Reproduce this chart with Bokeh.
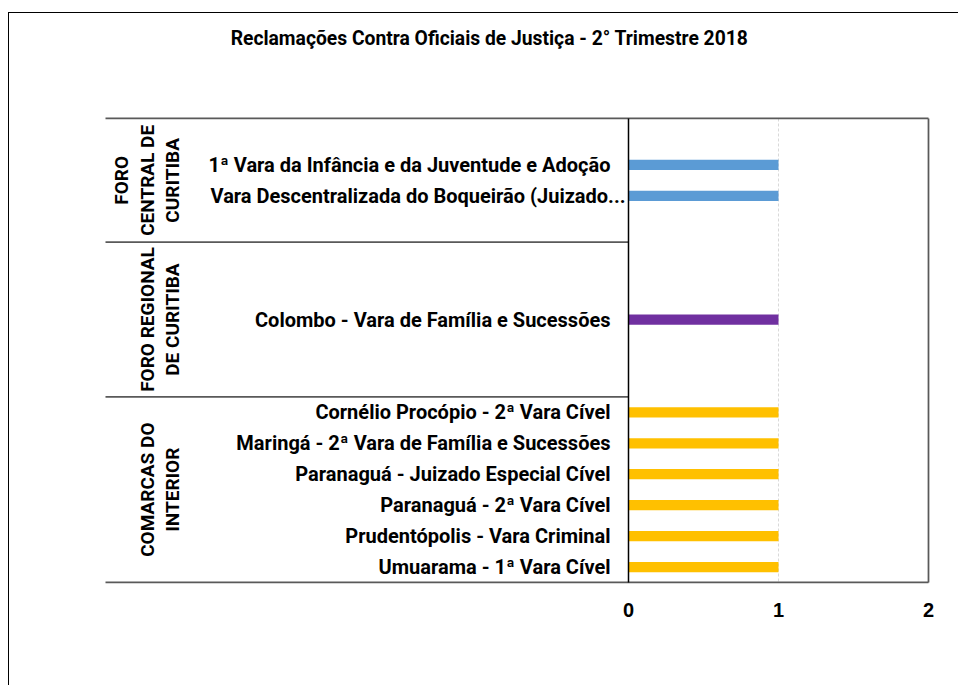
import math
from bokeh.plotting import figure
from bokeh.models import Range1d, FixedTicker, ColumnDataSource, Label
from bokeh.core.properties import value
from bokeh.embed import file_html
from bokeh.resources import INLINE

# ---------------- data ----------------
TITLE = "Reclamações Contra Oficiais de Justiça - 2° Trimestre 2018"

group_names = ["FORO\nCENTRAL DE\nCURITIBA", "FORO REGIONAL\nDE CURITIBA", "COMARCAS DO\nINTERIOR"]
group_colors = ["#5B9BD5", "#7030A0", "#FFC000"]

foro_central_items = ["", "1ª Vara da Infância e da Juventude e Adoção",
                      "Vara Descentralizada do Boqueirão (Juizado...", ""]
foro_central_values = [None, 1, 1, None]

foro_regional_items = ["", "", "Colombo - Vara de Família e Sucessões", "", ""]
foro_regional_values = [None, None, 1, None, None]

comarcas_items = ["Cornélio Procópio - 2ª Vara Cível",
                  "Maringá - 2ª Vara de Família e Sucessões",
                  "Paranaguá - Juizado Especial Cível",
                  "Paranaguá - 2ª Vara Cível",
                  "Prudentópolis - Vara Criminal",
                  "Umuarama - 1ª Vara Cível"]
comarcas_values = [1, 1, 1, 1, 1, 1]

x_ticks = [0, 1, 2]

groups_items = [foro_central_items, foro_regional_items, comarcas_items]
groups_values = [foro_central_values, foro_regional_values, comarcas_values]

# ---------------- layout constants ----------------
FONT = "Roboto"
OFF_X, OFF_Y = 9, 13               # page offset of the figure (margin + chart border)
W, H = 959 - OFF_X, 686 - OFF_Y
FRAME_H = 590 - OFF_Y
N_SLOTS = sum(len(g) for g in groups_items)
X0, X1 = -4.1267, 2.2067           # frame x-extent in data units
Y_TOP, Y_BOT = -3.394, 15.259      # frame y-extent in slot units
LEFT_AREA = -3.4867                # start of category-label area
LABEL_X = -0.12
ELLIPSIS_HANG = 0.1                # truncated labels let the "..." hang past
GROUP_LABEL_X = -2.963

# ---------------- build sources ----------------
bar_y, bar_v, bar_c = [], [], []
lab_y, lab_t, lab_x = [], [], []
grp_y, grp_t = [], []
bounds = [0]
slot = 0
for gi, (items, vals) in enumerate(zip(groups_items, groups_values)):
    start = slot
    for it, v in zip(items, vals):
        yc = slot + 0.5
        if v is not None:
            bar_y.append(yc); bar_v.append(v); bar_c.append(group_colors[gi])
        if it:
            lab_y.append(yc); lab_t.append(it)
            lab_x.append(LABEL_X + (ELLIPSIS_HANG if it.endswith("...") else 0))
        slot += 1
    grp_y.append((start + slot) / 2)
    grp_t.append(group_names[gi])
    bounds.append(slot)

bars = ColumnDataSource(dict(y=bar_y, v=bar_v, c=bar_c))
labels = ColumnDataSource(dict(y=lab_y, t=lab_t, x=lab_x))
glabels = ColumnDataSource(dict(y=grp_y, t=grp_t, x=[GROUP_LABEL_X] * len(grp_y)))

# ---------------- figure ----------------
p = figure(width=W, height=H,
           x_range=Range1d(X0, X1), y_range=Range1d(Y_BOT, Y_TOP),
           output_backend="svg", toolbar_location=None,
           y_axis_location=None,
           min_border_left=0, min_border_right=0, min_border_top=0,
           min_border_bottom=H - FRAME_H, outline_line_color=None,
           background_fill_color="white", border_fill_color="white")
# outer chart border: only its left and top edges fall inside the window
p.styles = {"margin-left": "8px", "margin-top": "12px",
            "border-left": "1px solid black", "border-top": "1px solid black"}
p.xgrid.visible = False
p.ygrid.visible = False

ax = p.xaxis[0]
ax.ticker = FixedTicker(ticks=x_ticks)
ax.axis_line_color = None
ax.major_tick_line_color = None
ax.minor_tick_line_color = None
ax.major_label_text_font = "Liberation Sans"
ax.major_label_text_font_style = "bold"
ax.major_label_text_font_size = "20px"
ax.major_label_text_color = "#000000"
ax.major_label_standoff = 6

# gridlines at inner ticks
inner = x_ticks[1:-1]
p.segment(x0=inner, y0=[0] * len(inner), x1=inner, y1=[N_SLOTS] * len(inner),
          line_color="#D9D9D9", line_width=1, line_dash="3 2")

# bars
p.hbar(y="y", left=0, right="v", height=0.33, fill_color="c",
       line_color=None, source=bars)

# plot frame (top, bottom, right) and group separators
sep = bounds[1:-1]
p.segment(x0=[LEFT_AREA, LEFT_AREA] + [LEFT_AREA] * len(sep) + [x_ticks[-1]],
          y0=[0, N_SLOTS] + sep + [0],
          x1=[x_ticks[-1], x_ticks[-1]] + [0] * len(sep) + [x_ticks[-1]],
          y1=[0, N_SLOTS] + sep + [N_SLOTS],
          line_color="#595959", line_width=1.75)

# value axis line at 0
p.segment(x0=[0], y0=[0], x1=[0], y1=[N_SLOTS], line_color="black", line_width=1.5)

# category labels
p.text(x="x", y="y", text="t", source=labels, text_align="right",
       text_baseline="middle", text_font=value(FONT), text_font_style="bold",
       text_font_size="20px", text_color="black")

# group labels (vertical)
p.text(x="x", y="y", text="t", source=glabels, angle=math.pi / 2,
       text_align="center", text_baseline="bottom", text_font=value(FONT),
       text_font_style="bold", text_font_size="19px", text_color="black",
       text_line_height=1.1)

# title
p.add_layout(Label(x=-0.9267, y=-2.59, text=TITLE, text_align="center",
                   text_baseline="middle", text_font=FONT,
                   text_font_style="bold", text_font_size="19.3px",
                   text_color="black"))

open("out.html", "w").write(file_html(p, INLINE))
